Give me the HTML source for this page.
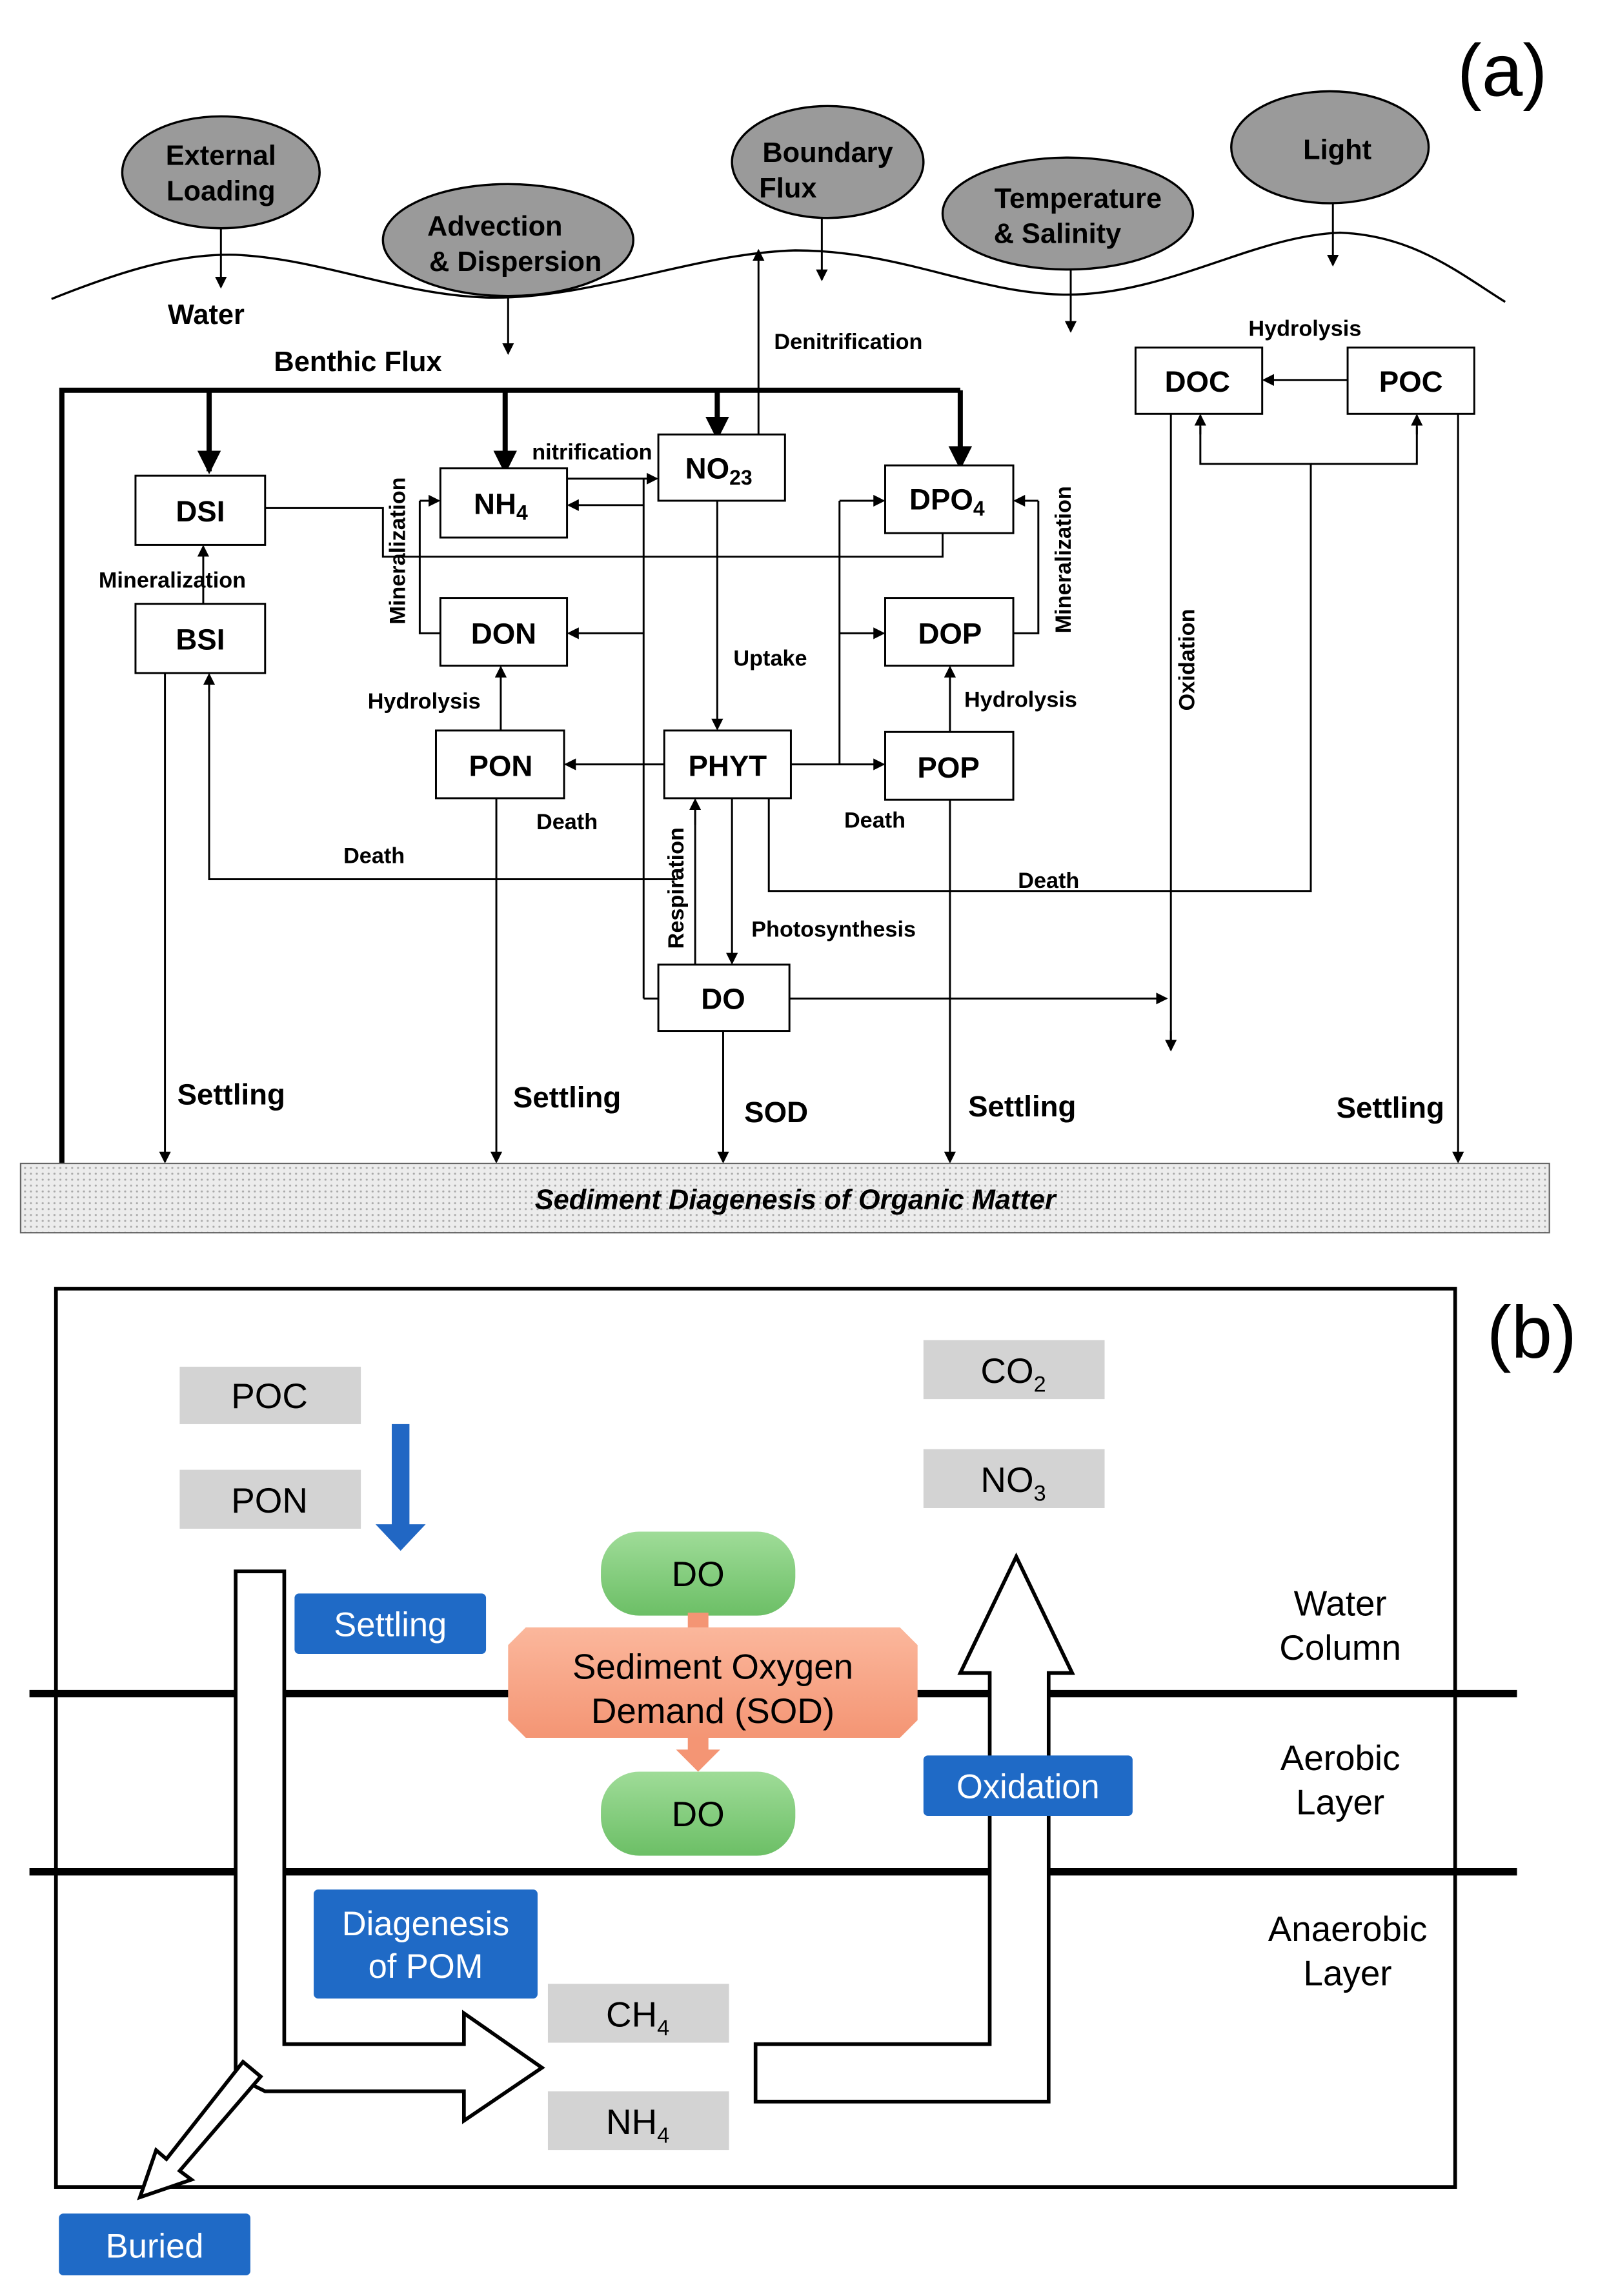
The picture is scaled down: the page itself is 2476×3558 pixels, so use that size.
<!DOCTYPE html>
<html><head><meta charset="utf-8"><style>
html,body{margin:0;padding:0;background:#fff}
svg{display:block}
text{font-family:"Liberation Sans",Arial,sans-serif}
</style></head><body>
<svg width="2476" height="3558" viewBox="0 0 1085 1559" preserveAspectRatio="none" xmlns="http://www.w3.org/2000/svg">
<defs>
<marker id="a" markerWidth="8" markerHeight="8" refX="7" refY="4" orient="auto" markerUnits="userSpaceOnUse"><path d="M0,0 L8,4 L0,8 Z" fill="#000"/></marker>
<marker id="b" markerWidth="16" markerHeight="16" refX="14" refY="8" orient="auto" markerUnits="userSpaceOnUse"><path d="M0,0 L16,8 L0,16 Z" fill="#000"/></marker>
<pattern id="dots" width="4" height="4" patternUnits="userSpaceOnUse"><rect width="4" height="4" fill="#ececec"/><circle cx="1" cy="1" r="0.7" fill="#aaa"/></pattern>
<linearGradient id="g" x1="0" y1="0" x2="0" y2="1"><stop offset="0" stop-color="#9fdc98"/><stop offset="1" stop-color="#6cbf66"/></linearGradient>
<linearGradient id="o" x1="0" y1="0" x2="0" y2="1"><stop offset="0" stop-color="#fbb79c"/><stop offset="1" stop-color="#f49574"/></linearGradient>
</defs>
<g font-weight="bold">
<text x="1020" y="65" font-size="50" font-weight="normal" text-anchor="middle">(a)</text>
<g fill="#9a9a9a" stroke="#000" stroke-width="1.5">
<ellipse cx="150" cy="117" rx="67" ry="38"/><ellipse cx="345" cy="163" rx="85" ry="38"/>
<ellipse cx="562" cy="110" rx="65" ry="38"/><ellipse cx="725" cy="145" rx="85" ry="38"/>
<ellipse cx="903" cy="100" rx="67" ry="38"/></g>
<g font-size="19" text-anchor="middle">
<text x="150" y="112">External</text><text x="150" y="136">Loading</text>
<text x="336" y="160">Advection</text><text x="350" y="184">&amp; Dispersion</text>
<text x="562" y="110">Boundary</text><text x="535" y="134">Flux</text>
<text x="732" y="141">Temperature</text><text x="718" y="165">&amp; Salinity</text>
<text x="908" y="108">Light</text></g>
<path d="M35,203 C80,185 120,172 160,173 C220,176 270,200 330,202 C400,204 470,172 540,170 C610,170 660,198 720,200 C790,202 850,160 910,158 C960,160 990,185 1022,205" fill="none" stroke="#000" stroke-width="1.5"/>
<g stroke="#000" stroke-width="1.3" marker-end="url(#a)">
<line x1="150" y1="155" x2="150" y2="195"/><line x1="345" y1="201" x2="345" y2="240"/>
<line x1="558" y1="148" x2="558" y2="190"/><line x1="727" y1="183" x2="727" y2="225"/>
<line x1="905" y1="138" x2="905" y2="180"/></g>
<text x="140" y="220" font-size="19" text-anchor="middle">Water</text>
<text x="243" y="252" font-size="19" text-anchor="middle">Benthic Flux</text>
<g stroke="#000" stroke-width="3.5" fill="none">
<path d="M42,790 L42,265 L652,265"/>
</g>
<g stroke="#000" stroke-width="3.5" marker-end="url(#b)">
<line x1="142" y1="265" x2="142" y2="320"/><line x1="343" y1="265" x2="343" y2="320"/>
<line x1="487" y1="265" x2="487" y2="297"/><line x1="652" y1="265" x2="652" y2="317"/></g>
<g stroke="#000" stroke-width="1.3" fill="none">
<path d="M180,345 L260,345 L260,378 L640,378 L640,362"/>
<path d="M299,430 L285,430 L285,340"/>
<path d="M437,678 L447,678"/><path d="M437,678 L437,325"/>
<path d="M570,519 L570,340"/><path d="M688,430 L705,430 L705,340"/>
<path d="M460,597 L142,597 L142,465"/>
<path d="M522,542 L522,605 L890,605 L890,315 L815,315 L815,290"/>
<path d="M890,315 L962,315 L962,290"/>
<path d="M795,281 L795,712"/>
<path d="M472,655 L472,550"/>
</g>
<g stroke="#000" stroke-width="1.3" marker-end="url(#a)">
<line x1="138" y1="410" x2="138" y2="371"/>
<line x1="285" y1="340" x2="298" y2="340"/>
<line x1="385" y1="325" x2="446" y2="325"/>
<line x1="437" y1="343" x2="386" y2="343"/>
<line x1="437" y1="430" x2="386" y2="430"/>
<line x1="487" y1="340" x2="487" y2="495"/>
<line x1="515" y1="295" x2="515" y2="170"/>
<line x1="537" y1="519" x2="600" y2="519"/>
<line x1="570" y1="340" x2="600" y2="340"/>
<line x1="570" y1="430" x2="600" y2="430"/>
<line x1="705" y1="340" x2="689" y2="340"/>
<line x1="645" y1="497" x2="645" y2="453"/>
<line x1="340" y1="496" x2="340" y2="453"/>
<line x1="451" y1="519" x2="384" y2="519"/>
<line x1="142" y1="470" x2="142" y2="458"/>
<line x1="815" y1="295" x2="815" y2="282"/>
<line x1="962" y1="295" x2="962" y2="282"/>
<line x1="915" y1="258" x2="858" y2="258"/>
<line x1="795" y1="700" x2="795" y2="713"/>
<line x1="536" y1="678" x2="792" y2="678"/>
<line x1="497" y1="542" x2="497" y2="654"/>
<line x1="472" y1="560" x2="472" y2="543"/>
<line x1="112" y1="457" x2="112" y2="789"/>
<line x1="337" y1="542" x2="337" y2="789"/>
<line x1="491" y1="700" x2="491" y2="789"/>
<line x1="645" y1="543" x2="645" y2="789"/>
<line x1="990" y1="281" x2="990" y2="789"/>
</g>
<g fill="#fff" stroke="#000" stroke-width="1.3">
<rect x="92" y="323" width="88" height="47"/><rect x="92" y="410" width="88" height="47"/>
<rect x="299" y="318" width="86" height="47"/><rect x="447" y="295" width="86" height="45"/>
<rect x="601" y="316" width="87" height="46"/><rect x="299" y="406" width="86" height="46"/>
<rect x="601" y="406" width="87" height="46"/><rect x="296" y="496" width="87" height="46"/>
<rect x="451" y="496" width="86" height="46"/><rect x="601" y="497" width="87" height="46"/>
<rect x="447" y="655" width="89" height="45"/><rect x="771" y="236" width="86" height="45"/>
<rect x="915" y="236" width="86" height="45"/></g>
<g font-size="20" text-anchor="middle">
<text x="136" y="354">DSI</text><text x="136" y="441">BSI</text>
<text x="340" y="349">NH<tspan font-size="14" dy="4">4</tspan></text>
<text x="488" y="325">NO<tspan font-size="14" dy="4">23</tspan></text>
<text x="643" y="346">DPO<tspan font-size="14" dy="4">4</tspan></text>
<text x="342" y="437">DON</text><text x="645" y="437">DOP</text>
<text x="340" y="527">PON</text><text x="494" y="527">PHYT</text><text x="644" y="528">POP</text>
<text x="491" y="685">DO</text><text x="813" y="266">DOC</text><text x="958" y="266">POC</text></g>
<g font-size="15" text-anchor="middle">
<text x="117" y="399">Mineralization</text>
<text x="402" y="312">nitrification</text>
<text x="576" y="237">Denitrification</text>
<text x="886" y="228">Hydrolysis</text>
<text x="523" y="452">Uptake</text>
<text x="288" y="481">Hydrolysis</text><text x="693" y="480">Hydrolysis</text>
<text x="385" y="563">Death</text><text x="594" y="562">Death</text>
<text x="254" y="586">Death</text><text x="712" y="603">Death</text>
<text x="566" y="636">Photosynthesis</text>
<text transform="translate(275,374) rotate(-90)">Mineralization</text>
<text transform="translate(727,380) rotate(-90)">Mineralization</text>
<text transform="translate(811,448) rotate(-90)">Oxidation</text>
<text transform="translate(464,603) rotate(-90)">Respiration</text>
</g>
<g font-size="20" text-anchor="middle">
<text x="157" y="750">Settling</text><text x="385" y="752">Settling</text>
<text x="527" y="762">SOD</text><text x="694" y="758">Settling</text><text x="944" y="759">Settling</text></g>
<rect x="14" y="790" width="1038" height="47" fill="url(#dots)" stroke="#666" stroke-width="1"/>
<text x="540" y="821" font-size="19" font-style="italic" text-anchor="middle">Sediment Diagenesis of Organic Matter</text>
</g>
<text x="1040" y="922" font-size="50" text-anchor="middle">(b)</text>
<rect x="38" y="875" width="950" height="610" fill="none" stroke="#000" stroke-width="2.5"/>
<line x1="20" y1="1150" x2="1030" y2="1150" stroke="#000" stroke-width="5"/>
<line x1="20" y1="1271" x2="1030" y2="1271" stroke="#000" stroke-width="5"/>
<g fill="#fff" stroke="#000" stroke-width="2.5">
<path d="M160,1067 L193,1067 L193,1388 L315,1388 L315,1367 L368,1404 L315,1440 L315,1420 L180,1420 L160,1410 Z"/>
<path d="M513,1388 L672,1388 L672,1136 L652,1136 L690,1057 L728,1136 L712,1136 L712,1427 L513,1427 Z"/>
<path d="M165,1400 L177,1410 L122,1474 L130,1480 L95,1492 L106,1460 L113,1466 Z"/>
</g>
<g fill="#d3d3d3">
<rect x="122" y="928" width="123" height="39"/><rect x="122" y="998" width="123" height="40"/>
<rect x="627" y="910" width="123" height="40"/><rect x="627" y="984" width="123" height="40"/>
<rect x="372" y="1347" width="123" height="40"/><rect x="372" y="1420" width="123" height="40"/></g>
<g font-size="24" text-anchor="middle">
<text x="183" y="956">POC</text><text x="183" y="1027">PON</text>
<text x="688" y="939">CO<tspan font-size="15" dy="6">2</tspan></text>
<text x="688" y="1013">NO<tspan font-size="15" dy="6">3</tspan></text>
<text x="433" y="1376">CH<tspan font-size="15" dy="6">4</tspan></text>
<text x="433" y="1449">NH<tspan font-size="15" dy="6">4</tspan></text></g>
<path d="M266,967 L278,967 L278,1035 L289,1035 L272,1053 L255,1035 L266,1035 Z" fill="#2167c4"/>
<g fill="#1f6ac6">
<rect x="200" y="1082" width="130" height="41" rx="3"/><rect x="627" y="1192" width="142" height="41" rx="3"/>
<rect x="213" y="1283" width="152" height="74" rx="3"/><rect x="40" y="1503" width="130" height="42" rx="3"/></g>
<g fill="#fff" font-size="23" text-anchor="middle">
<text x="265" y="1111">Settling</text><text x="698" y="1221">Oxidation</text>
<text x="289" y="1314">Diagenesis</text><text x="289" y="1343">of POM</text>
<text x="105" y="1533">Buried</text></g>
<rect x="408" y="1040" width="132" height="57" rx="26" fill="url(#g)"/>
<rect x="408" y="1203" width="132" height="57" rx="26" fill="url(#g)"/>
<rect x="467" y="1095" width="14" height="14" fill="#f49574"/>
<path d="M357,1105 L611,1105 L623,1117 L623,1168 L611,1180 L357,1180 L345,1168 L345,1117 Z" fill="url(#o)"/>
<path d="M467,1180 L481,1180 L481,1188 L489,1188 L474,1203 L459,1188 L467,1188 Z" fill="#f49574"/>
<g font-size="24" text-anchor="middle">
<text x="474" y="1077">DO</text><text x="474" y="1240">DO</text>
<text x="484" y="1140">Sediment Oxygen</text><text x="484" y="1170">Demand (SOD)</text>
<text x="910" y="1097">Water</text><text x="910" y="1127">Column</text>
<text x="910" y="1202">Aerobic</text><text x="910" y="1232">Layer</text>
<text x="915" y="1318">Anaerobic</text><text x="915" y="1348">Layer</text></g>
</svg>
</body></html>
